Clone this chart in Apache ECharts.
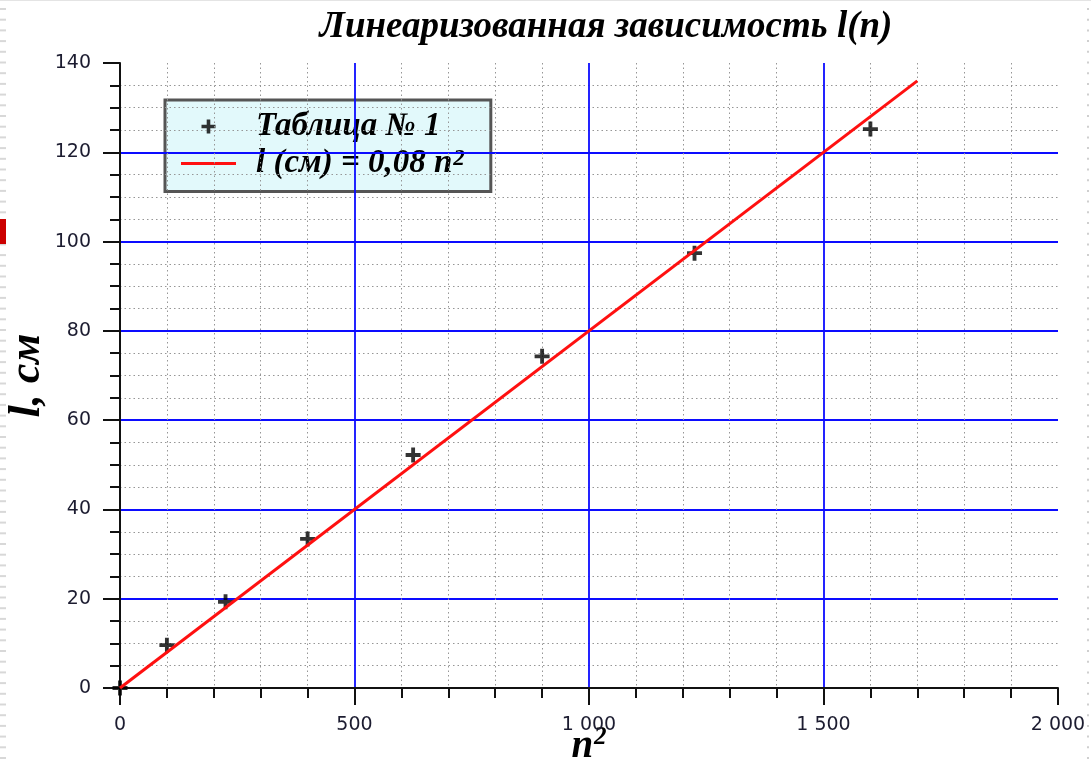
<!DOCTYPE html>
<html>
<head>
<meta charset="utf-8">
<title>Линеаризованная зависимость l(n)</title>
<script src="https://cdn.jsdelivr.net/npm/echarts@6/dist/echarts.min.js"></script>
<style>
  html, body { margin: 0; padding: 0; background: #ffffff; }
  #chart { width: 1091px; height: 765px; }
</style>
</head>
<body>
<div id="chart"></div>
<script>
// Measured points: n squared vs. length l (cm)
const nSquared = [0, 100, 225, 400, 625, 900, 1225, 1600];
const lengthCm = [0, 9.6, 19.3, 33.4, 52.2, 74.3, 97.4, 125.2];

// Endpoints of the fitted line l = 0.08 n^2
const fitN2 = [0, 1700];
const fitL = [0, 136];

// Axis ranges and tick steps
const xRange = [0, 2000];
const xStep = 500;
const yRange = [0, 140];
const yStep = 20;

const titleText = 'Линеаризованная зависимость l(n)';
const yName = 'l, см';
const seriesNames = ['Таблица № 1', 'l (см) = 0,08 n2'];

const serif = '"Liberation Serif", "DejaVu Serif", serif';
const sans = '"DejaVu Sans", sans-serif';
const plusPath = 'path://M0,5.2H14V8.8H0Z M5.2,0H8.8V14H5.2Z';
const dashPath = 'path://M0,0H55V3H0Z';

const chart = echarts.init(document.getElementById('chart'), null, { renderer: 'canvas' });

// Thin border strokes along the page edges
const edgeMarks = [];
for (let y = 8; y < 765; y += 10.7) {
  edgeMarks.push({ type: 'rect', shape: { x: 0, y: y, width: 6, height: 2 }, style: { fill: '#d8d8d8' }, silent: true });
  edgeMarks.push({ type: 'rect', shape: { x: 1087, y: y, width: 2, height: 2 }, style: { fill: '#cfcfcf' }, silent: true });
}
edgeMarks.push({ type: 'rect', shape: { x: 0, y: 219, width: 6, height: 25 }, style: { fill: '#cc0000' }, silent: true });
edgeMarks.push({ type: 'rect', shape: { x: 0, y: 0, width: 1091, height: 1 }, style: { fill: '#e4e4e4' }, silent: true });

const option = {
  backgroundColor: '#ffffff',
  animation: false,
  title: {
    text: titleText,
    left: 601,
    textAlign: 'center',
    top: 4,
    textStyle: { fontFamily: serif, fontStyle: 'italic', fontWeight: 'bold', fontSize: 37, color: '#000' }
  },
  legend: {
    left: 165,
    top: 100,
    orient: 'vertical',
    z: -1,
    backgroundColor: '#e2f9fb',
    borderColor: '#555555',
    borderWidth: 3,
    borderRadius: 0,
    padding: [10, 26, 7, 16],
    itemWidth: 55,
    itemHeight: 14,
    itemGap: 4,
    data: [
      { name: seriesNames[0], icon: plusPath, itemStyle: { color: '#000' } },
      { name: seriesNames[1], icon: dashPath, itemStyle: { color: '#ff1010' } }
    ],
    formatter: function (name) {
      if (name === seriesNames[1]) {
        return '{p|}{a|l (см) = 0,08 n}{s|2}';
      }
      return '{p|}{a|' + name + '}';
    },
    textStyle: {
      rich: {
        p: { width: 15 },
        a: { fontFamily: serif, fontStyle: 'italic', fontWeight: 'bold', fontSize: 33, color: '#000', lineHeight: 32 },
        s: { fontFamily: serif, fontStyle: 'italic', fontWeight: 'bold', fontSize: 23, color: '#000', verticalAlign: 'top', lineHeight: 22, padding: [0, 0, 14, 1] }
      }
    }
  },
  grid: { left: 120, right: 33, top: 63, bottom: 77, containLabel: false, outerBoundsMode: 'none' },
  xAxis: {
    type: 'value',
    min: xRange[0],
    max: xRange[1],
    interval: xStep,
    name: '{n|n}{s|2}',
    nameLocation: 'middle',
    nameGap: 37,
    nameMoveOverlap: false,
    nameTextStyle: {
      rich: {
        n: { fontFamily: serif, fontStyle: 'italic', fontWeight: 'bold', fontSize: 39, color: '#000' },
        s: { fontFamily: serif, fontStyle: 'italic', fontWeight: 'bold', fontSize: 25, color: '#000', verticalAlign: 'top', padding: [0, 0, 18, 1] }
      }
    },
    axisLine: { show: true, onZero: false, lineStyle: { color: '#111', width: 2 } },
    axisTick: { show: true, length: 17, lineStyle: { color: '#111', width: 2 } },
    minorTick: { show: true, splitNumber: 5, length: 10, lineStyle: { color: '#111', width: 2 } },
    axisLabel: {
      margin: 28,
      fontFamily: sans,
      fontSize: 19,
      color: '#1c1c30',
      formatter: function (v) { return v >= 1000 ? String(v).replace(/(\d)(\d{3})$/, '$1 $2') : String(v); }
    },
    splitLine: { show: true, showMinLine: false, showMaxLine: false, lineStyle: { color: '#0c0cff', width: 1.8 } },
    minorSplitLine: { show: true, lineStyle: { color: '#969696', width: 1, type: [1.5, 3] } }
  },
  yAxis: {
    type: 'value',
    min: yRange[0],
    max: yRange[1],
    interval: yStep,
    name: yName,
    nameLocation: 'middle',
    nameRotate: 90,
    nameGap: 70,
    nameMoveOverlap: false,
    nameTextStyle: { fontFamily: serif, fontStyle: 'italic', fontWeight: 'bold', fontSize: 44, color: '#000' },
    axisLine: { show: true, onZero: false, lineStyle: { color: '#111', width: 2 } },
    axisTick: { show: true, length: 17, lineStyle: { color: '#111', width: 2 } },
    minorTick: { show: true, splitNumber: 4, length: 10, lineStyle: { color: '#111', width: 2 } },
    axisLabel: { margin: 29, fontFamily: sans, fontSize: 19, color: '#1c1c30' },
    splitLine: { show: true, showMinLine: false, showMaxLine: false, lineStyle: { color: '#0c0cff', width: 1.8 } },
    minorSplitLine: { show: true, lineStyle: { color: '#969696', width: 1, type: [1.5, 3] } }
  },
  series: [
    {
      name: seriesNames[0],
      type: 'scatter',
      symbol: plusPath,
      symbolSize: 15,
      itemStyle: { color: '#000' },
      z: 3,
      data: nSquared.map((v, i) => [v, lengthCm[i]])
    },
    {
      name: seriesNames[1],
      type: 'line',
      symbol: 'none',
      showSymbol: false,
      lineStyle: { color: '#ff1010', width: 3 },
      itemStyle: { color: '#ff1010' },
      z: 4,
      data: fitN2.map((v, i) => [v, fitL[i]])
    }
  ],
  graphic: edgeMarks
};

chart.setOption(option);
</script>
</body>
</html>
